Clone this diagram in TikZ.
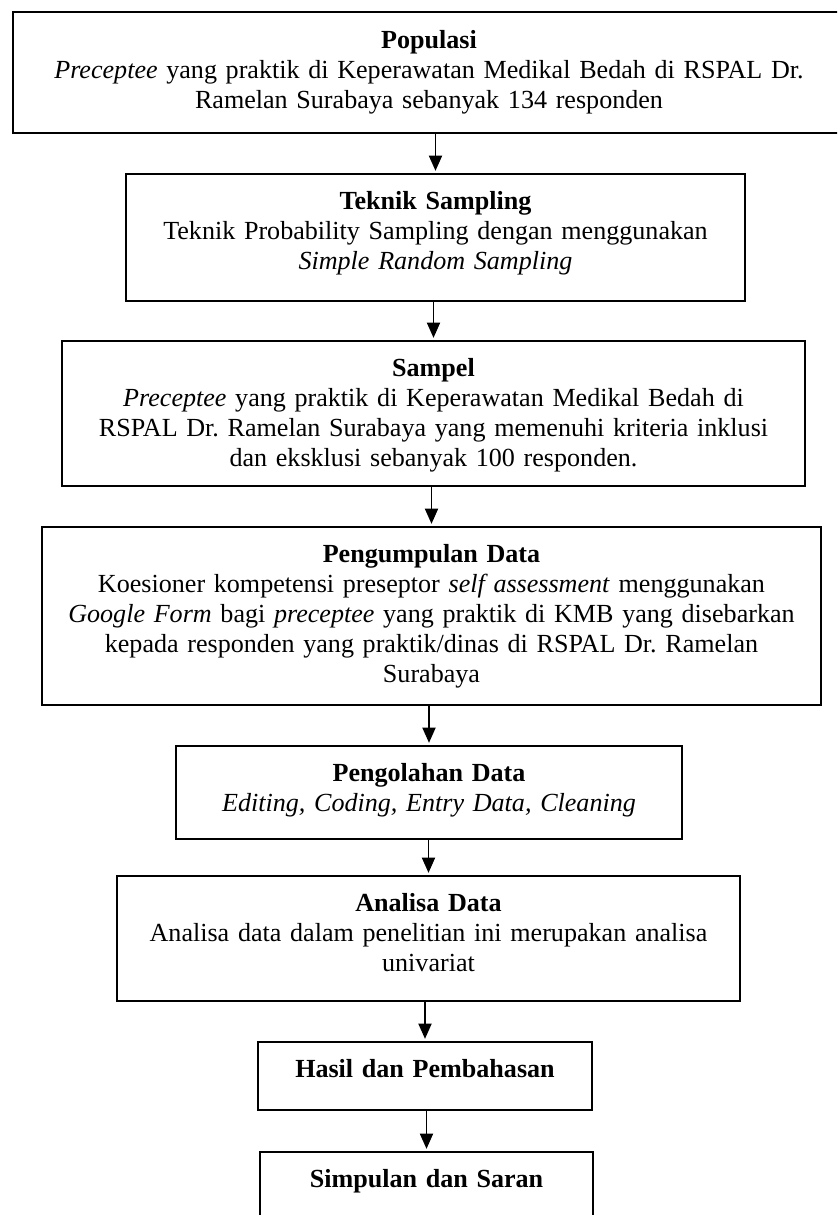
\documentclass[tikz,border=0pt]{standalone}
\usepackage{fontspec}
\setmainfont{Liberation Serif}
\usepackage{tikz}
\usetikzlibrary{arrows.meta,calc}
\frenchspacing

\begin{document}
\begin{tikzpicture}[x=0.46pt,y=-0.46pt,
  kotak/.style={draw, line width=0.9pt, inner sep=0pt},
  isi/.style={anchor=base, align=center, text width=390pt, inner sep=0pt, font=\fontsize{12}{13.8}\selectfont},
  panah/.style={-{Triangle[length=7pt,width=6pt]}, line width=0.8pt, shorten >=1pt}]
  \useasboundingbox (0,0) rectangle (837,1215);
  \clip (0,0) rectangle (837,1215);
  % boxes
  \node[kotak, minimum width=832*0.46pt, minimum height=121*0.46pt] (populasi) at (429,72.5) {};
  \node[kotak, minimum width=619*0.46pt, minimum height=127*0.46pt] (teknik) at (435.5,237.5) {};
  \node[kotak, minimum width=743*0.46pt, minimum height=145*0.46pt] (sampel) at (433.5,413.5) {};
  \node[kotak, minimum width=779*0.46pt, minimum height=178*0.46pt] (pengumpulan) at (431.5,616) {};
  \node[kotak, minimum width=506*0.46pt, minimum height=93*0.46pt] (pengolahan) at (429,792.5) {};
  \node[kotak, minimum width=623*0.46pt, minimum height=125*0.46pt] (analisa) at (428.5,938.5) {};
  \node[kotak, minimum width=334*0.46pt, minimum height=68*0.46pt] (hasil) at (425,1076) {};
  \node[kotak, minimum width=333*0.46pt, minimum height=88*0.46pt] (simpulan) at (426.5,1196) {};
  % texts
  \node[isi] (populasi-isi) at ($(populasi.north)+(0,37)$) {\textbf{Populasi}\\
    \textit{Preceptee} yang praktik di Keperawatan Medikal Bedah di RSPAL Dr.\\
    Ramelan Surabaya sebanyak 134 responden};
  \node[isi] (teknik-isi) at ($(teknik.north)+(0,36)$) {\textbf{Teknik Sampling}\\
    Teknik Probability Sampling dengan menggunakan\\
    \textit{Simple Random Sampling}};
  \node[isi] (sampel-isi) at ($(sampel.north)+(0,36)$) {\textbf{Sampel}\\
    \textit{Preceptee} yang praktik di Keperawatan Medikal Bedah di\\
    RSPAL Dr. Ramelan Surabaya yang memenuhi kriteria inklusi\\
    dan eksklusi sebanyak 100 responden.};
  \node[isi] (pengumpulan-isi) at ($(pengumpulan.north)+(0,36)$) {\textbf{Pengumpulan Data}\\
    Koesioner kompetensi preseptor \textit{self assessment} menggunakan\\
    \textit{Google Form} bagi \textit{preceptee} yang praktik di KMB yang disebarkan\\
    kepada responden yang praktik/dinas di RSPAL Dr. Ramelan\\
    Surabaya};
  \node[isi] (pengolahan-isi) at ($(pengolahan.north)+(0,36)$) {\textbf{Pengolahan Data}\\
    \textit{Editing, Coding, Entry Data, Cleaning}};
  \node[isi] (analisa-isi) at ($(analisa.north)+(0,36)$) {\textbf{Analisa Data}\\
    Analisa data dalam penelitian ini merupakan analisa\\
    univariat};
  \node[isi] (hasil-isi) at ($(hasil.north)+(0,36)$) {\textbf{Hasil dan Pembahasan}};
  \node[isi] (simpulan-isi) at ($(simpulan.north)+(0,36)$) {\textbf{Simpulan dan Saran}};
  % arrows
  \draw[panah] (populasi.south -| teknik.north) -- (teknik.north);
  \draw[panah] (teknik.south -| sampel.north) -- (sampel.north);
  \draw[panah] (sampel.south -| pengumpulan.north) -- (pengumpulan.north);
  \draw[panah] (pengumpulan.south -| pengolahan.north) -- (pengolahan.north);
  \draw[panah] (pengolahan.south -| analisa.north) -- (analisa.north);
  \draw[panah] (analisa.south -| hasil.north) -- (hasil.north);
  \draw[panah] (hasil.south -| simpulan.north) -- (simpulan.north);
\end{tikzpicture}
\end{document}
